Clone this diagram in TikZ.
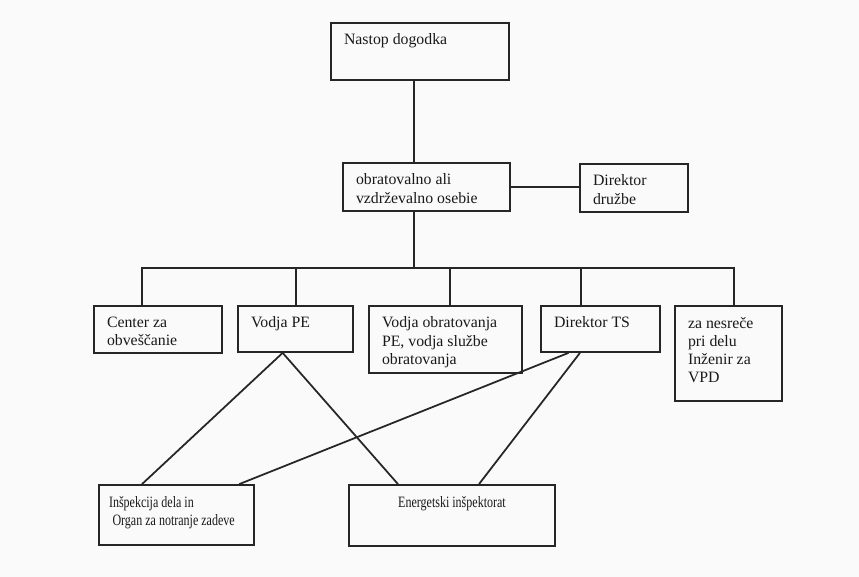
\documentclass[tikz,border=0pt]{standalone}
\usepackage{fontspec}
\setmainfont{Liberation Serif}
\usetikzlibrary{calc}

\begin{document}
\begin{tikzpicture}[x=0.02cm, y=-0.02cm, line width=1pt, draw=black!85,
	box/.style={draw, rectangle, inner sep=0pt},
	txt/.style={anchor=north west, align=left, inner sep=0pt, xshift=0.26cm, yshift=-0.22cm, font=\fontsize{9}{10.4}\selectfont, text=black!90},
	ctxt/.style={anchor=north, inner sep=0pt, yshift=-0.22cm, font=\fontsize{9}{10.4}\selectfont, text=black!90}]
			\fill[gray!4] (0,0) rectangle (859,577);
			\node[box, minimum width=3.56cm, minimum height=1.14cm, label={[txt]north west:Nastop dogodka}] (nastop) at (420,51.5) {};
			\node[box, minimum width=3.34cm, minimum height=0.96cm, label={[txt]north west:{obratovalno ali\\vzdrževalno osebie}}] (obrat) at (426.5,187) {};
			\node[box, minimum width=2.16cm, minimum height=0.96cm, label={[txt]north west:{Direktor\\družbe}}] (druzbe) at (634,188) {};
			\node[box, minimum width=2.56cm, minimum height=0.94cm, label={[txt]north west:{Center za\\obveščanie}}] (center) at (158,329.5) {};
			\node[box, minimum width=2.3cm, minimum height=0.92cm, label={[txt]north west:Vodja PE}] (vodjape) at (295.5,329) {};
			\node[box, minimum width=3.06cm, minimum height=1.34cm, label={[txt]north west:{Vodja obratovanja\\PE, vodja službe\\obratovanja}}] (vodjaobr) at (445.5,339.5) {};
			\node[box, minimum width=2.38cm, minimum height=0.92cm, label={[txt]north west:Direktor TS}] (dirts) at (600.5,329) {};
			\node[box, minimum width=2.14cm, minimum height=1.9cm, label={[txt]north west:{za nesreče\\pri delu\\Inženir za\\VPD}}] (nesrece) at (728.5,353.5) {};
			\node[box, minimum width=3.1cm, minimum height=1.2cm, label={[txt, xshift=-0.06cm]north west:{\scalebox{0.76}[1]{Inšpekcija dela in}\\\hspace{2pt}\scalebox{0.76}[1]{Organ za notranje zadeve}}}] (insp) at (176.5,515) {};
			\node[box, minimum width=4.12cm, minimum height=1.22cm, label={[ctxt]north:\scalebox{0.76}[1]{Energetski inšpektorat}}] (energ) at (452,515.5) {};
			\coordinate (bus) at (414,269);
			\draw (bus |- nastop.south) -- (bus |- obrat.north);
			\draw (bus |- obrat.south) -- (bus);
			\draw (obrat.east) -- (obrat.east -| druzbe.west);
			\draw ($(center.north west)!0.375!(center.north east)$) -- ++(0,-37) -| ($(nesrece.north west)!0.55!(nesrece.north east)$);
			\draw ($(vodjape.north west)!0.505!(vodjape.north east)$) -- ++(0,-37);
			\draw ($(vodjaobr.north west)!0.53!(vodjaobr.north east)$) -- ++(0,-37);
			\draw ($(dirts.north west)!0.34!(dirts.north east)$) -- ++(0,-37);
			\draw ($(vodjape.south west)!0.39!(vodjape.south east)$) -- ($(insp.north west)!0.28!(insp.north east)$);
			\draw ($(vodjape.south west)!0.39!(vodjape.south east)$) -- ($(energ.north west)!0.24!(energ.north east)$);
			\draw ($(dirts.south west)!0.235!(dirts.south east)$) -- ($(insp.north west)!0.9!(insp.north east)$);
			\draw ($(dirts.south west)!0.33!(dirts.south east)$) -- ($(energ.north west)!0.63!(energ.north east)$);
\end{tikzpicture}
\end{document}
